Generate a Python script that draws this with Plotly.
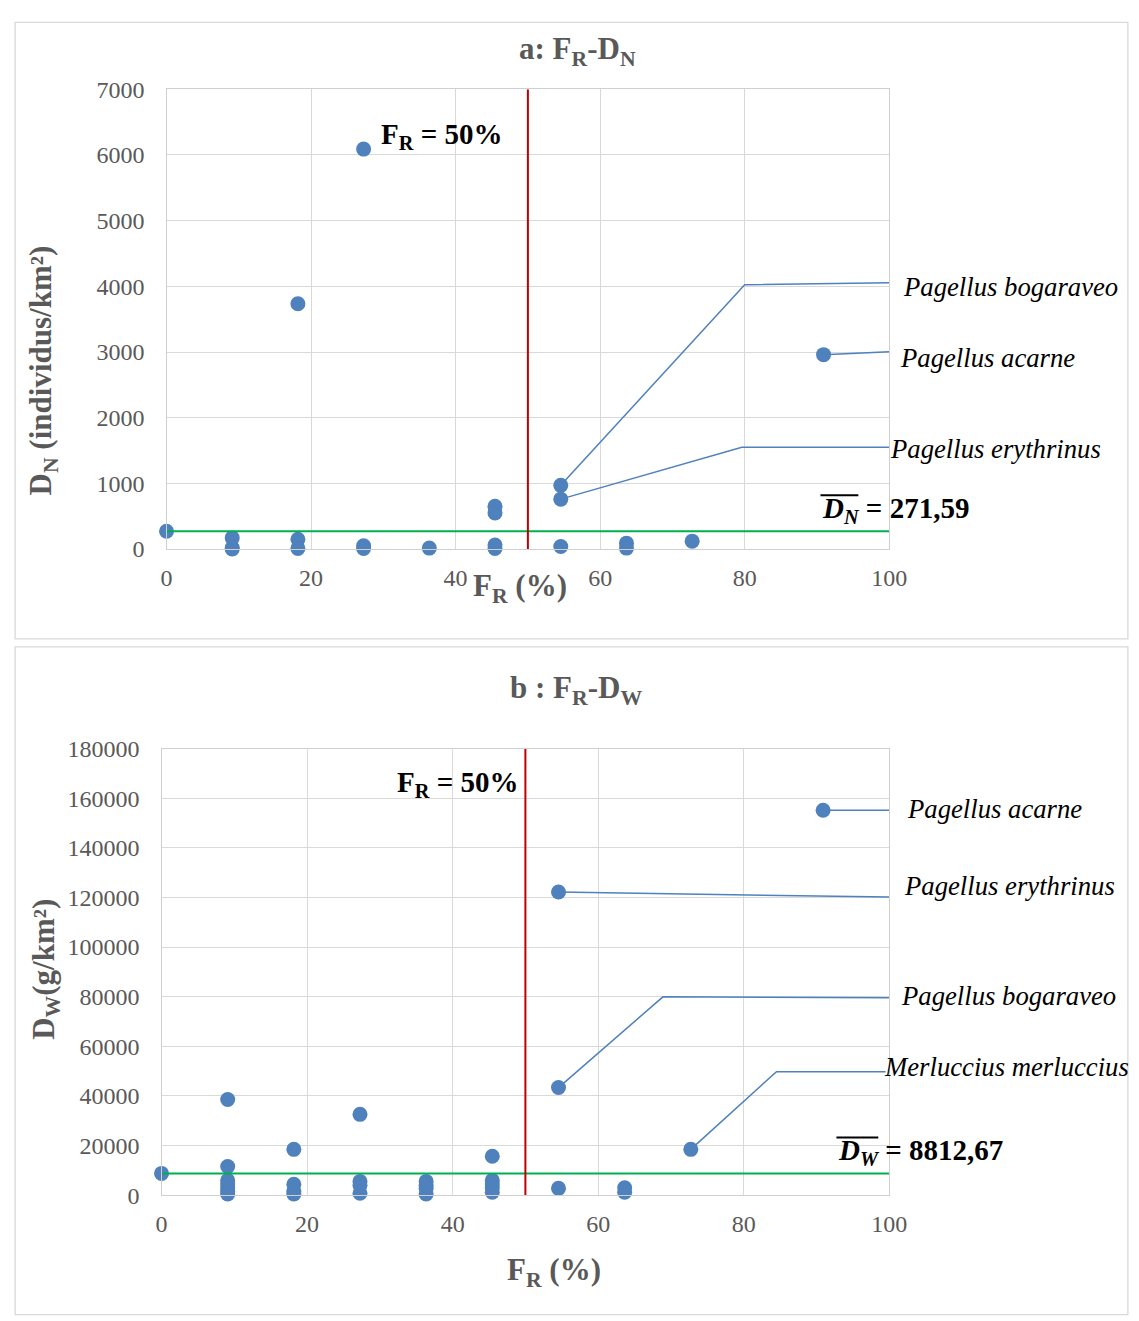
import plotly.graph_objects as go

W, H = 1139, 1321

# ---------------- data ----------------
fr_a = [0, 9.09, 9.09, 9.09, 18.18, 18.18, 18.18, 27.27, 27.27, 27.27, 36.36,
        45.45, 45.45, 45.45, 45.45, 54.55, 54.55, 54.55, 63.64, 63.64, 72.73, 90.91]
dn = [271.59, 170, 20, 0, 3735, 150, 10, 6090, 50, 10, 15,
      650, 550, 60, 10, 970, 760, 40, 90, 15, 120, 2960]

fr_b = [0,
        9.09, 9.09, 9.09, 9.09, 9.09, 9.09, 9.09,
        18.18, 18.18, 18.18, 18.18,
        27.27, 27.27, 27.27, 27.27,
        36.36, 36.36, 36.36, 36.36,
        45.45, 45.45, 45.45, 45.45, 45.45,
        54.55, 54.55, 54.55,
        63.64, 63.64,
        72.73,
        90.91]
dw = [8812.67,
      38600, 11600, 6000, 4500, 3000, 1500, 500,
      18500, 4400, 1500, 500,
      32600, 5600, 4000, 800,
      5600, 4000, 2800, 500,
      15700, 6000, 4500, 3000, 1200,
      122200, 43400, 2800,
      3000, 1200,
      18500,
      155100]

mean_dn = 271.59
mean_dw = 8812.67
fr_threshold = 50

x_ticks = [0, 20, 40, 60, 80, 100]
y_ticks_a = [0, 1000, 2000, 3000, 4000, 5000, 6000, 7000]
y_ticks_b = [0, 20000, 40000, 60000, 80000, 100000, 120000, 140000, 160000, 180000]

# callouts: label, leader path (x list, y list)
callouts_a = [
    ("Pagellus bogaraveo", [54.55, 80, 100], [970, 4024, 4054]),
    ("Pagellus acarne", [90.91, 100], [2960, 3006]),
    ("Pagellus erythrinus", [54.55, 79.6, 100], [760, 1549, 1549]),
]
callouts_b = [
    ("Pagellus acarne", [90.91, 100], [155100, 155080]),
    ("Pagellus erythrinus", [54.55, 100], [122200, 120130]),
    ("Pagellus bogaraveo", [54.55, 68.9, 100], [43400, 79950, 79550]),
    ("Merluccius merluccius", [72.73, 84.5, 99.5], [18500, 49820, 49820]),
]

BLUE = "#4F81BD"
GRID = "#D9D9D9"
TXT = "#595959"
FONT = "Liberation Serif"

# compensation for page capture transform
SX, OX = 0.982, 13.0
SY, OY = 0.983, 19.5


def px(x):
    return ((x - OX) / SX) / W


def py(y):
    return 1 - ((y - OY) / SY) / H


fig = go.Figure()

# ---- chart a ----
fig.add_trace(go.Scatter(x=fr_a, y=dn, mode="markers", xaxis="x", yaxis="y",
                         marker=dict(color=BLUE, size=15), showlegend=False,
                         cliponaxis=False))
fig.add_trace(go.Scatter(x=[0, 100], y=[mean_dn, mean_dn], mode="lines", xaxis="x", yaxis="y",
                         line=dict(color="#00B050", width=2), showlegend=False))
fig.add_trace(go.Scatter(x=[fr_threshold, fr_threshold], y=[0, 7000], mode="lines", xaxis="x", yaxis="y",
                         line=dict(color="#C00000", width=2), showlegend=False))
for name, xs, ys in callouts_a:
    fig.add_trace(go.Scatter(x=xs, y=ys, mode="lines", xaxis="x", yaxis="y",
                             line=dict(color=BLUE, width=1.5), showlegend=False, cliponaxis=False))

# ---- chart b ----
fig.add_trace(go.Scatter(x=fr_b, y=dw, mode="markers", xaxis="x2", yaxis="y2",
                         marker=dict(color=BLUE, size=15), showlegend=False,
                         cliponaxis=False))
fig.add_trace(go.Scatter(x=[0, 100], y=[mean_dw, mean_dw], mode="lines", xaxis="x2", yaxis="y2",
                         line=dict(color="#00B050", width=2), showlegend=False))
fig.add_trace(go.Scatter(x=[fr_threshold, fr_threshold], y=[0, 180000], mode="lines", xaxis="x2", yaxis="y2",
                         line=dict(color="#C00000", width=2), showlegend=False))
for name, xs, ys in callouts_b:
    fig.add_trace(go.Scatter(x=xs, y=ys, mode="lines", xaxis="x2", yaxis="y2",
                             line=dict(color=BLUE, width=1.5), showlegend=False, cliponaxis=False))

axis_common = dict(showgrid=True, gridcolor=GRID, gridwidth=1.3, zeroline=False,
                   showline=True, linecolor="#D0D0D0", linewidth=1.3, mirror=True,
                   ticks="outside", tickcolor="rgba(0,0,0,0)", tickformat="d",
                   tickfont=dict(family=FONT, size=24, color=TXT))

fig.update_layout(
    width=W, height=H,
    margin=dict(l=0, r=0, t=0, b=0, pad=0),
    paper_bgcolor="white", plot_bgcolor="white",
    xaxis=dict(domain=[px(166), px(891)], range=[0, 100], tickvals=x_ticks, ticklen=7,
               anchor="y", **axis_common),
    yaxis=dict(domain=[py(549), py(88)], range=[0, 7000], tickvals=y_ticks_a, ticklen=16,
               anchor="x", **axis_common),
    xaxis2=dict(domain=[px(161), px(891)], range=[0, 100], tickvals=x_ticks, ticklen=7,
                anchor="y2", **axis_common),
    yaxis2=dict(domain=[py(1197), py(749)], range=[0, 180000], tickvals=y_ticks_b, ticklen=16,
                anchor="x2", **axis_common),
)


def label(text, x, y, size, color="black", xanchor="left", angle=0):
    return dict(text=text, x=px(x), y=py(y), xref="paper", yref="paper",
                xanchor=xanchor, yanchor="middle", textangle=angle, showarrow=False,
                font=dict(family=FONT, size=size, color=color))


ann = []
# titles
ann.append(label("<b>a: F<sub>R</sub>-D<sub>N</sub></b>", 578, 50, 31, TXT, "center"))
ann.append(label("<b>b : F<sub>R</sub>-D<sub>W</sub></b>", 577, 690, 31, TXT, "center"))
# axis titles
ann.append(label("<b>F<sub>R</sub> (%)</b>", 521, 588, 31, TXT, "center"))
ann.append(label("<b>D<sub>N</sub> (individus/km²)</b>", 42, 370, 31, TXT, "center", -90))
ann.append(label("<b>F<sub>R</sub> (%)</b>", 555, 1274, 31, TXT, "center"))
ann.append(label("<b>D<sub>W</sub>(g/km²)</b>", 45, 970, 31, TXT, "center", -90))
# FR = 50%
ann.append(label("<b>F<sub>R</sub> = 50%</b>", 379, 135, 29))
ann.append(label("<b>F<sub>R</sub> = 50%</b>", 395, 785, 29))
# mean labels
ann.append(label("<b><i>D<sub>N</sub></i> = 271,59</b>", 822, 510, 29))
ann.append(label("<b><i>D<sub>W</sub></i> = 8812,67</b>", 838, 1154, 29))
# species labels (left x, center y in reference pixels)
label_pos_a = {"Pagellus bogaraveo": (903, 286), "Pagellus acarne": (900, 357), "Pagellus erythrinus": (890, 449)}
for name, xs, ys in callouts_a:
    lx, lyp = label_pos_a[name]
    ann.append(label(f"<i>{name}</i>", lx, lyp, 26.7))
label_pos_b = {"Pagellus acarne": (907, 810), "Pagellus erythrinus": (904, 887),
               "Pagellus bogaraveo": (901, 997), "Merluccius merluccius": (884, 1068)}
for name, xs, ys in callouts_b:
    lx, lyp = label_pos_b[name]
    ann.append(label(f"<i>{name}</i>", lx, lyp, 26.7))
fig.update_layout(annotations=ann)

shapes = [
    dict(type="rect", xref="paper", yref="paper", x0=max(px(8), 0.001), x1=min(px(1139), 0.999),
         y0=py(639), y1=min(py(5), 0.999), line=dict(color=GRID, width=1.3)),
    dict(type="rect", xref="paper", yref="paper", x0=max(px(8), 0.001), x1=min(px(1139), 0.999),
         y0=max(py(1321), 0.001), y1=py(647), line=dict(color=GRID, width=1.3)),
    # overlines on mean symbols
    dict(type="line", xref="paper", yref="paper", x0=px(822), x1=px(860), y0=py(495), y1=py(495),
         line=dict(color="black", width=2)),
    dict(type="line", xref="paper", yref="paper", x0=px(838), x1=px(880), y0=py(1139), y1=py(1139),
         line=dict(color="black", width=2)),
]
fig.update_layout(shapes=shapes)

fig.write_html("out.html")
